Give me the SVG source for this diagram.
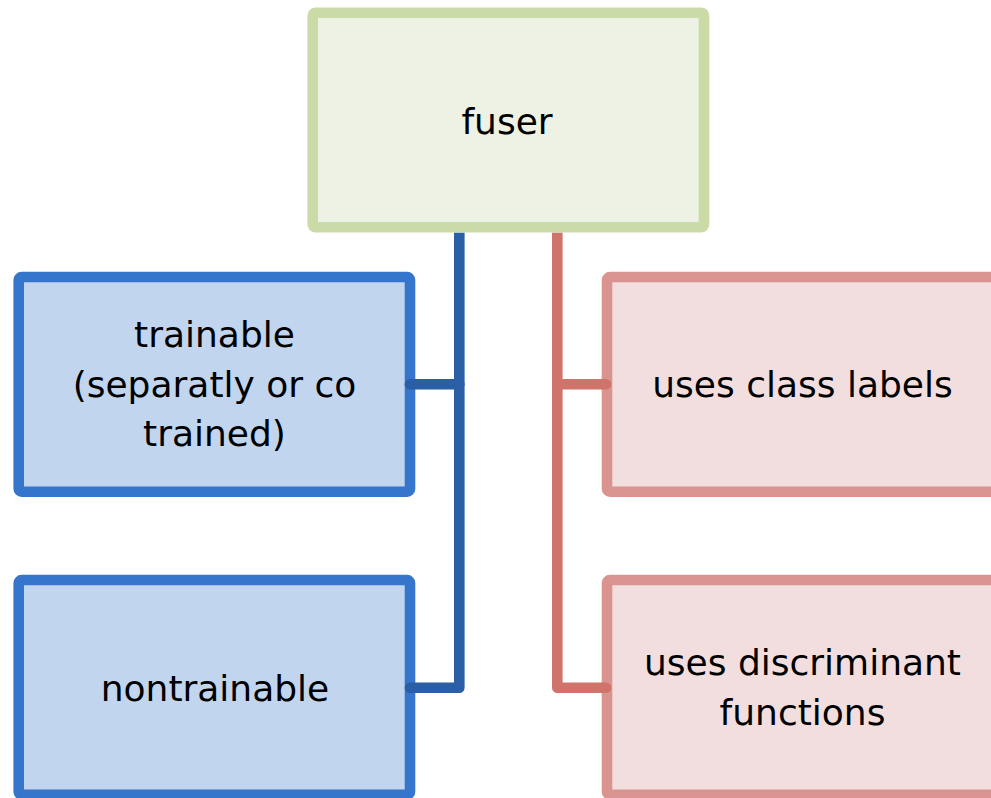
<svg xmlns="http://www.w3.org/2000/svg" width="991" height="798" viewBox="0 0 991 798">
<style>
.box{stroke-width:10.6;stroke-linejoin:round}
.g{fill:#EEF2E4;stroke:#CBDBA8}
.b{fill:#C2D5EF;stroke:#3575CC}
.r{fill:#F2DEDE;stroke:#DA9490}
text{font-family:"DejaVu Sans","Liberation Sans",sans-serif;font-size:36px;fill:#000;text-anchor:middle}
.cb{fill:none;stroke:#2A5FA6;stroke-width:10.6;stroke-linejoin:round}
.cr{fill:none;stroke:#CF736B;stroke-width:10.6;stroke-linejoin:round}
.rc{stroke-linecap:round}
</style>
<rect width="991" height="798" fill="#fff"/>
<g id="fuser">
<rect class="box g" x="312.7" y="12.7" width="391.3" height="214.6" rx="3"/>
<text x="507" y="134">fuser</text>
</g>
<g id="trainable">
<rect class="box b" x="18.7" y="277" width="391.3" height="214.7" rx="3"/>
<text x="214.5" y="346.5">trainable</text>
<text x="214.5" y="396.5">(separatly or co</text>
<text x="214.5" y="445.5">trained)</text>
</g>
<g id="nontrainable">
<rect class="box b" x="18.7" y="580" width="391.3" height="214.7" rx="3"/>
<text x="215" y="700.5">nontrainable</text>
</g>
<g id="classlabels">
<rect class="box r" x="607" y="277" width="391.3" height="214.7" rx="3"/>
<text x="802.5" y="397.3">uses class labels</text>
</g>
<g id="discriminant">
<rect class="box r" x="607" y="580" width="391.3" height="214.7" rx="3"/>
<text x="802.5" y="675">uses discriminant</text>
<text x="802.5" y="725">functions</text>
</g>
<g id="connectors">
<path class="cb" d="M459.3,232.8 V687.7 H410"/>
<circle cx="410" cy="687.7" r="5.3" fill="#2A5FA6"/>
<path class="cb rc" d="M459.3,384.3 H410"/>
<path class="cr" d="M557.3,232.8 V687.7 H606"/>
<circle cx="606" cy="687.7" r="5.3" fill="#CF736B"/>
<path class="cr rc" d="M557.3,384.3 H606"/>
</g>
</svg>
